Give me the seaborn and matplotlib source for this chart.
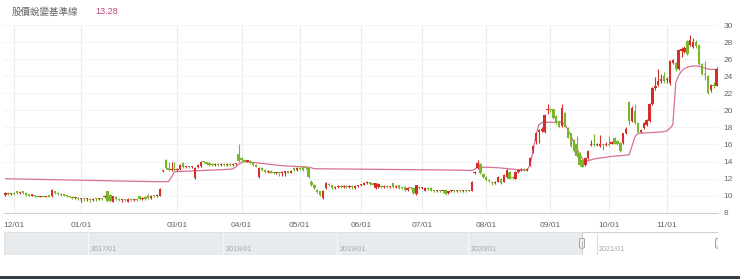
import numpy as np
import pandas as pd
import matplotlib
matplotlib.use("Agg")
import matplotlib.pyplot as plt
from matplotlib.patches import Rectangle, FancyBboxPatch
import seaborn as sns

# ---------------- data ----------------
holidays = ["2021-01-01", "2021-02-08", "2021-02-09", "2021-02-10", "2021-02-11",
            "2021-02-12", "2021-02-15", "2021-02-16", "2021-03-01", "2021-04-02",
            "2021-04-05", "2021-06-14", "2021-09-20", "2021-09-21", "2021-10-11"]
first_day, last_day = "2020-11-26", "2021-11-24"

tick_months = ["2020-12", "2021-01", "2021-03", "2021-04", "2021-05", "2021-06",
               "2021-07", "2021-08", "2021-09", "2021-10", "2021-11"]
tick_labels = ["12/01", "01/01", "03/01", "04/01", "05/01", "06/01",
               "07/01", "08/01", "09/01", "10/01", "11/01"]

open_ = [
    10.1, 10.3, 10.2, 10.3, 10.5, 10.3, 10.5, 10.3, 10.1, 10.0,
    10.0, 9.9, 9.85, 9.95, 9.85, 9.9, 9.9, 10.5, 10.3, 10.2,
    10.1, 10.0, 9.9, 9.8, 9.7, 9.75, 9.6, 9.6, 9.55, 9.6,
    9.5, 9.6, 9.55, 9.65, 9.8, 10.5, 10.1, 9.3, 9.8, 9.6,
    9.5, 9.55, 9.3, 9.6, 9.5, 9.55, 9.9, 9.6, 9.8, 10.1,
    9.7, 10.0, 9.9, 10.0,
    12.9, 14.2, 13.2, 13.0, 13.1, 13.0, 13.1, 13.8, 13.3, 13.4,
    13.3, 12.05, 13.3, 13.5, 14.0, 13.9, 13.8, 13.7, 13.6, 13.7,
    13.6, 13.7, 13.6, 13.7, 13.6, 13.7, 14.9, 14.4, 14.2, 14.0,
    14.1, 13.8, 13.6, 12.15, 13.2, 13.0, 12.8, 12.9, 12.7, 12.6,
    12.7, 12.6, 12.7, 12.8, 12.7, 13.2, 13.0, 13.2, 13.3, 13.3,
    13.2, 11.65, 11.3, 10.7, 10.5, 9.7, 10.9, 11.4, 11.2, 10.9,
    11.0, 11.1, 11.0, 11.1, 11.0, 11.1, 10.9, 11.1, 11.2, 11.3,
    11.45, 11.5, 11.4, 10.9, 11.0, 11.1, 11.0, 11.1, 11.0, 11.45,
    11.0, 11.26, 11.0, 11.0, 10.7, 10.95, 10.9, 10.2, 11.0, 10.9,
    10.6, 10.9, 10.9, 10.6, 10.5, 10.6, 10.5, 10.7, 10.3, 10.5,
    10.6, 10.5, 10.6, 10.5, 10.6, 10.55,
    10.6, 12.6, 13.2, 13.7, 12.5, 12.2, 11.8, 11.6, 11.5, 11.65,
    12.0, 11.65, 12.2, 12.8, 12.2, 12.0, 12.8, 13.0, 13.1, 13.0,
    13.6, 15.2, 16.35, 17.5, 17.6, 17.5, 20.0, 20.1, 20.1, 19.3,
    18.7, 18.2, 19.7, 17.9, 17.3, 16.5, 16.0, 15.0, 14.2, 13.6,
    14.4, 15.9,
    16.1, 15.9, 15.8, 16.0, 15.9, 16.0, 16.1, 16.75, 16.4, 16.2,
    16.2, 17.3, 21.0, 18.7, 19.9, 18.5, 17.5, 17.9, 18.3, 18.7,
    20.7, 22.6, 23.0, 23.4, 24.0, 23.5, 23.2, 25.6, 25.6, 24.8,
    27.0, 26.8, 28.1, 27.7, 27.4, 28.0, 27.6, 25.4, 24.2, 24.0,
    22.4, 23.0, 22.9,
]
close = [
    10.3, 10.2, 10.25, 10.2, 10.3, 10.4, 10.3, 10.1, 10.0, 10.1,
    9.9, 9.85, 9.95, 9.85, 9.9, 9.88, 10.7, 10.3, 10.2, 10.1,
    10.0, 9.9, 9.8, 9.7, 9.75, 9.6, 9.65, 9.55, 9.6, 9.5,
    9.6, 9.55, 9.65, 9.6, 10.0, 9.4, 9.4, 9.9, 9.6, 9.5,
    9.55, 9.5, 9.6, 9.5, 9.55, 9.5, 9.6, 9.7, 9.6, 9.7,
    10.0, 9.9, 10.1, 10.75,
    12.92, 13.2, 13.0, 13.1, 13.0, 13.1, 13.6, 13.3, 13.4, 13.3,
    13.4, 13.2, 13.6, 14.0, 13.9, 13.7, 13.6, 13.6, 13.7, 13.6,
    13.7, 13.6, 13.75, 13.6, 13.7, 13.72, 14.1, 14.2, 14.0, 14.1,
    13.8, 13.6, 13.4, 13.2, 13.0, 12.8, 12.9, 12.7, 12.6, 12.7,
    12.6, 12.8, 12.8, 12.7, 12.8, 13.0, 13.2, 13.1, 13.0, 13.2,
    12.2, 11.2, 10.9, 10.4, 10.1, 10.6, 11.5, 11.2, 10.9, 11.0,
    11.1, 11.0, 11.05, 11.0, 11.1, 11.0, 11.1, 11.2, 11.3, 11.45,
    11.5, 11.4, 11.3, 11.45, 11.4, 11.0, 11.1, 11.0, 11.05, 11.0,
    11.1, 10.9, 10.9, 10.7, 10.9, 10.9, 10.3, 11.2, 10.9, 10.95,
    10.9, 10.8, 10.6, 10.5, 10.6, 10.5, 10.55, 10.2, 10.5, 10.6,
    10.5, 10.6, 10.5, 10.6, 10.55, 10.6,
    11.65, 12.8, 13.8, 12.6, 12.2, 11.8, 11.7, 11.45, 11.6, 12.2,
    11.45, 12.45, 13.0, 12.0, 12.1, 12.8, 13.0, 13.1, 13.0, 13.1,
    14.4, 15.8, 17.3, 17.7, 17.8, 19.5, 20.1, 20.0, 19.1, 18.5,
    18.1, 20.3, 18.1, 16.8, 15.8, 15.2, 14.6, 13.6, 13.4, 14.4,
    15.2, 16.0,
    15.9, 16.0, 16.0, 15.9, 16.0, 15.9, 16.2, 16.1, 16.0, 15.2,
    17.3, 17.8, 18.7, 20.3, 18.5, 17.5, 17.7, 18.5, 18.9, 20.7,
    22.6, 22.9, 23.4, 23.7, 23.4, 23.6, 25.8, 25.9, 24.8, 27.1,
    27.2, 27.3, 26.6, 28.3, 28.0, 27.5, 25.4, 24.2, 24.1, 22.05,
    23.0, 22.8, 24.8,
]
high = [
    10.4, 10.4, 10.3, 10.4, 10.6, 10.5, 10.6, 10.4, 10.2, 10.2,
    10.1, 10.0, 10.0, 10.0, 10.0, 10.0, 10.8, 10.6, 10.4, 10.3,
    10.2, 10.1, 10.0, 9.9, 9.8, 9.8, 9.7, 9.7, 9.7, 9.7,
    9.7, 9.7, 9.7, 9.7, 10.1, 10.6, 10.2, 10.0, 9.9, 9.7,
    9.6, 9.6, 9.7, 9.7, 9.6, 9.6, 10.0, 9.8, 9.9, 10.2,
    10.1, 10.1, 10.2, 10.85,
    13.0, 14.3, 14.0, 14.0, 13.9, 13.2, 13.7, 13.9, 13.5, 13.5,
    13.5, 13.3, 13.7, 14.1, 14.1, 14.0, 13.9, 13.8, 13.8, 13.8,
    13.8, 13.8, 13.8, 13.8, 13.8, 13.8, 16.0, 14.5, 14.3, 14.2,
    14.2, 13.9, 13.7, 13.3, 13.3, 13.1, 13.0, 13.0, 12.8, 12.8,
    12.8, 12.9, 12.9, 12.9, 13.0, 13.4, 13.3, 13.4, 13.4, 13.4,
    13.3, 11.8, 11.4, 10.8, 10.6, 10.7, 11.6, 11.5, 11.3, 11.1,
    11.2, 11.2, 11.2, 11.2, 11.2, 11.2, 11.2, 11.3, 11.4, 11.6,
    11.7, 11.6, 11.5, 11.5, 11.5, 11.2, 11.2, 11.2, 11.1, 11.5,
    11.2, 11.3, 11.1, 11.1, 11.0, 11.0, 11.0, 11.3, 11.1, 11.0,
    11.0, 11.0, 11.0, 10.7, 10.7, 10.7, 10.6, 10.8, 10.6, 10.7,
    10.7, 10.7, 10.7, 10.7, 10.7, 10.7,
    11.7, 12.9, 14.2, 13.8, 12.6, 12.3, 11.9, 11.7, 11.7, 12.3,
    12.1, 12.5, 13.1, 12.9, 12.3, 12.9, 13.1, 13.2, 13.2, 13.2,
    14.5, 15.9, 17.4, 17.8, 18.0, 19.6, 20.7, 20.3, 20.2, 19.4,
    18.8, 20.7, 19.8, 18.0, 17.4, 16.6, 17.0, 15.1, 14.3, 14.5,
    15.3, 16.5,
    17.2, 16.2, 17.1, 16.1, 16.3, 17.0, 16.4, 16.9, 16.5, 16.3,
    17.4, 18.0, 21.1, 20.5, 20.7, 18.6, 17.8, 18.6, 19.0, 20.8,
    22.7, 23.9, 24.8, 24.2, 24.5, 23.9, 25.9, 26.0, 25.7, 27.2,
    27.4, 27.5, 28.2, 28.8, 28.5, 28.3, 27.7, 25.5, 25.8, 24.1,
    23.1, 23.3, 25.1,
]
low = [
    10.0, 10.1, 10.1, 10.1, 10.2, 10.2, 10.2, 10.0, 9.9, 9.9,
    9.8, 9.8, 9.8, 9.8, 9.8, 9.8, 9.85, 10.2, 10.1, 10.0,
    9.9, 9.8, 9.7, 9.6, 9.6, 9.5, 9.3, 9.4, 9.4, 9.3,
    9.4, 9.4, 9.5, 9.5, 9.7, 9.3, 9.3, 9.2, 9.5, 9.4,
    9.3, 9.4, 9.25, 9.4, 9.4, 9.4, 9.5, 9.5, 9.5, 9.6,
    9.6, 9.8, 9.8, 9.95,
    12.8, 13.1, 12.9, 12.9, 12.9, 12.9, 13.0, 13.2, 13.2, 13.2,
    13.2, 12.0, 13.2, 13.4, 13.8, 13.6, 13.5, 13.5, 13.5, 13.5,
    13.5, 13.5, 13.5, 13.5, 13.5, 13.6, 14.0, 14.1, 13.9, 13.9,
    13.7, 13.5, 13.3, 12.1, 12.9, 12.7, 12.7, 12.6, 12.5, 12.5,
    12.3, 12.3, 12.3, 12.6, 12.6, 12.9, 12.9, 13.0, 12.9, 13.1,
    12.1, 11.1, 10.8, 10.3, 10.0, 9.6, 10.8, 11.1, 10.8, 10.8,
    10.9, 10.9, 10.9, 10.9, 10.9, 10.8, 10.8, 11.0, 11.1, 11.2,
    11.4, 11.3, 11.2, 10.8, 10.9, 10.9, 10.9, 10.9, 10.9, 10.9,
    10.9, 10.8, 10.8, 10.6, 10.6, 10.8, 10.2, 10.1, 10.8, 10.8,
    10.5, 10.7, 10.5, 10.4, 10.4, 10.4, 10.4, 10.1, 10.2, 10.4,
    10.4, 10.4, 10.4, 10.4, 10.4, 10.5,
    10.5, 12.5, 13.1, 12.5, 12.1, 11.7, 11.6, 11.3, 11.4, 11.6,
    11.4, 11.6, 12.1, 11.9, 12.0, 11.9, 12.7, 12.9, 12.9, 12.9,
    13.5, 15.0, 16.0, 16.2, 17.5, 17.4, 19.6, 19.8, 19.0, 18.4,
    18.0, 18.1, 18.0, 16.7, 15.7, 15.1, 14.5, 13.5, 13.3, 13.5,
    14.3, 15.8,
    15.8, 15.8, 15.7, 15.4, 15.8, 15.8, 16.0, 16.0, 15.9, 15.1,
    16.0, 17.2, 18.3, 18.6, 18.4, 17.3, 17.3, 17.8, 18.2, 18.6,
    20.6, 22.4, 22.9, 23.2, 23.2, 23.2, 23.0, 25.4, 24.6, 24.7,
    26.3, 26.7, 26.5, 27.5, 27.3, 27.3, 25.3, 24.1, 23.6, 21.9,
    22.2, 22.6, 22.8,
]
# 股價蛻變基準線 (reference line)
baseline = [
    11.98, 11.97, 11.97, 11.96, 11.95, 11.95, 11.94, 11.93, 11.93, 11.92,
    11.91, 11.91, 11.90, 11.89, 11.89, 11.88, 11.87, 11.87, 11.86, 11.85,
    11.85, 11.84, 11.83, 11.83, 11.82, 11.81, 11.81, 11.80, 11.79, 11.79,
    11.78, 11.77, 11.77, 11.76, 11.75, 11.75, 11.74, 11.73, 11.73, 11.72,
    11.71, 11.71, 11.70, 11.69, 11.69, 11.68, 11.67, 11.67, 11.66, 11.65,
    11.65, 11.64, 11.63, 11.63, 11.62, 11.62, 11.64,
    12.20, 12.80,
    12.82, 12.83, 12.85, 12.86, 12.88, 12.89, 12.91, 12.92, 12.94, 12.95,
    12.97, 12.98, 13.00, 13.01, 13.03, 13.04, 13.06, 13.08, 13.10, 13.14,
    13.35, 13.65, 13.90, 14.00,
    13.97, 13.93, 13.89, 13.85, 13.80, 13.76, 13.72, 13.68, 13.64, 13.60,
    13.57, 13.54, 13.51, 13.49, 13.47, 13.45, 13.43, 13.41, 13.40, 13.38, 13.37,
    13.35, 13.25, 13.16,
    13.15, 13.15, 13.14, 13.14, 13.14, 13.13, 13.13, 13.13, 13.12, 13.12,
    13.12, 13.11, 13.11, 13.11, 13.10, 13.10, 13.10, 13.09, 13.09, 13.09,
    13.08, 13.08, 13.08, 13.07, 13.07, 13.07, 13.06, 13.06, 13.06, 13.05,
    13.05, 13.05, 13.04, 13.04, 13.04, 13.03, 13.03, 13.03, 13.02, 13.02,
    13.02, 13.01, 13.01, 13.01, 13.00, 13.00, 13.00, 12.99, 12.99, 12.98,
    12.98, 12.97, 12.96, 12.95,
    13.10, 13.30,
    13.32, 13.33, 13.33, 13.32, 13.31, 13.29, 13.27, 13.24, 13.21, 13.18,
    13.14, 13.10, 13.06, 13.03, 13.00, 12.99, 13.00,
    13.60, 15.20, 17.00, 18.30, 18.55,
    18.58, 18.60, 18.60, 18.60, 18.60, 18.60, 18.60,
    18.30, 17.70, 17.00, 16.30, 15.60, 14.90, 14.30,
    14.00, 14.10, 14.20, 14.30, 14.35, 14.40, 14.45, 14.50, 14.55, 14.60,
    14.62, 14.65, 14.68, 14.70, 14.75, 14.80,
    15.80, 16.90, 17.30,
    17.32, 17.34, 17.36, 17.38, 17.40, 17.42, 17.44, 17.46, 17.50, 17.60,
    17.90, 18.30, 23.20, 24.10,
    24.60, 24.90, 25.05, 25.15, 25.20, 25.20, 25.15, 25.05, 24.95, 24.85,
    24.80, 24.80, 24.80,
]
title_text = "股價蛻變基準線"
title_value = "13.28"

# navigator (full history) in trading-day index units relative to window start
nav_first_idx = -1042
nav_year_labels = ["2017/01", "2018/01", "2019/01", "2020/01", "2021/01"]
nav_year_idx = [-890, -647, -442, -206, 26]

# ---------------- build ----------------
dates = pd.bdate_range(first_day, last_day)
dates = dates[~dates.isin(pd.to_datetime(holidays))]
n = min(len(dates), len(open_), len(close), len(high), len(low), len(baseline))
df = pd.DataFrame({
    "idx": np.arange(n),
    "date": dates[:n],
    "open": open_[:n], "close": close[:n], "high": high[:n], "low": low[:n],
    "base": baseline[:n],
})
df["up"] = df["close"] >= df["open"]

RED = "#d42d2a"
GREEN = "#7ab62b"
PINK = "#d6709a"

sns.set_theme(style="white")
plt.rcParams["font.family"] = ["Liberation Sans", "Noto Sans CJK TC", "DejaVu Sans"]

W, H = 740, 279
fig = plt.figure(figsize=(W / 100, H / 100), dpi=100)
fig.patch.set_facecolor("white")

left_px, right_px, top_px, bot_px = 4, 718, 25, 212.7
ax = fig.add_axes([left_px / W, 1 - bot_px / H, (right_px - left_px) / W, (bot_px - top_px) / H])
ax.set_facecolor("white")

# reference line
sns.lineplot(data=df, x="idx", y="base", ax=ax, color=PINK, lw=0.9, zorder=2, legend=False)

# candles
cols = np.where(df["up"], RED, GREEN)
ax.vlines(df["idx"], df["low"], df["high"], colors=cols, lw=0.8, zorder=3)
body_lo = np.minimum(df["open"], df["close"])
body_h = np.maximum(np.abs(df["close"] - df["open"]), 0.14)
ax.bar(df["idx"], body_h, bottom=body_lo, width=0.8, color=cols, linewidth=0, zorder=4)

ax.set_xlim(-0.5, n - 0.5)
ax.set_ylim(8, 30)
ax.set_xlabel("")
ax.set_ylabel("")

# y axis on right
ax.yaxis.tick_right()
ax.set_yticks(np.arange(8, 31, 2))
ax.set_yticklabels([str(v) for v in range(8, 31, 2)])
ax.tick_params(axis="y", length=0, pad=4, labelsize=6, labelcolor="#666666")

# x ticks at first trading day of the shown months
month_str = df["date"].dt.strftime("%Y-%m")
tick_pos = [int(df.loc[month_str == m, "idx"].iloc[0]) for m in tick_months]
ax.set_xticks(tick_pos)
ax.set_xticklabels(tick_labels)
ax.tick_params(axis="x", length=0, pad=7, labelsize=6, labelcolor="#666666")

ax.grid(axis="x", color="#ececec", lw=0.8)
ax.grid(axis="y", color="#f4f4f4", lw=0.8)
ax.set_axisbelow(True)
for s in ["top", "left", "right"]:
    ax.spines[s].set_visible(False)
ax.spines["bottom"].set_color("#cfcfcf")
ax.spines["bottom"].set_linewidth(0.8)

# title
fig.text(12 / W, 1 - 11.5 / H, title_text, fontsize=6.8, color="#666666",
         va="center", ha="left", family=["Noto Sans CJK TC", "DejaVu Sans"])
fig.text(95 / W, 1 - 11.5 / H, title_value, fontsize=6.6, color="#c2457d",
         va="center", ha="left")

# navigator
nav = fig.add_axes([left_px / W, 1 - 255 / H, (right_px - left_px) / W, 23 / H])
nav.set_xlim(nav_first_idx, n - 0.5)
nav.set_ylim(0, 1)
nav.axis("off")
nav.add_patch(Rectangle((nav_first_idx, 0), -0.5 - nav_first_idx, 1,
                        facecolor="#e8ebee", edgecolor="#dddddd", lw=0.6, zorder=1))
nav.add_patch(Rectangle((-0.5, 0), n, 1, facecolor="white",
                        edgecolor="#d0d0d0", lw=0.7, zorder=1))
for xi, lab in zip(nav_year_idx, nav_year_labels):
    nav.plot([xi, xi], [0, 1], color="#dcdfe3" if xi > 0 else "#f5f6f7", lw=0.8, zorder=2)
    nav.text(xi + 4, 0.22, lab, fontsize=5.2, color="#a8a8a8", va="center", ha="left", zorder=3)
# handles
for hx in [-0.5, n - 0.5]:
    hw = 5 / (714 / (n - 0.5 - nav_first_idx))
    nav.add_patch(FancyBboxPatch((hx - hw / 2, 0.3), hw, 0.42,
                                 boxstyle="round,pad=0,rounding_size=2",
                                 facecolor="#f2f2f2", edgecolor="#a0a0a0", lw=0.7,
                                 zorder=5, mutation_aspect=0.05))
    nav.plot([hx, hx], [0.4, 0.62], color="#a0a0a0", lw=0.5, zorder=6)

# bottom dark strip
fig.patches.append(Rectangle((0, 0), 1, 3 / H, transform=fig.transFigure,
                             facecolor="#33404d", edgecolor="none", zorder=0))

fig.savefig("out.png", dpi=100)
